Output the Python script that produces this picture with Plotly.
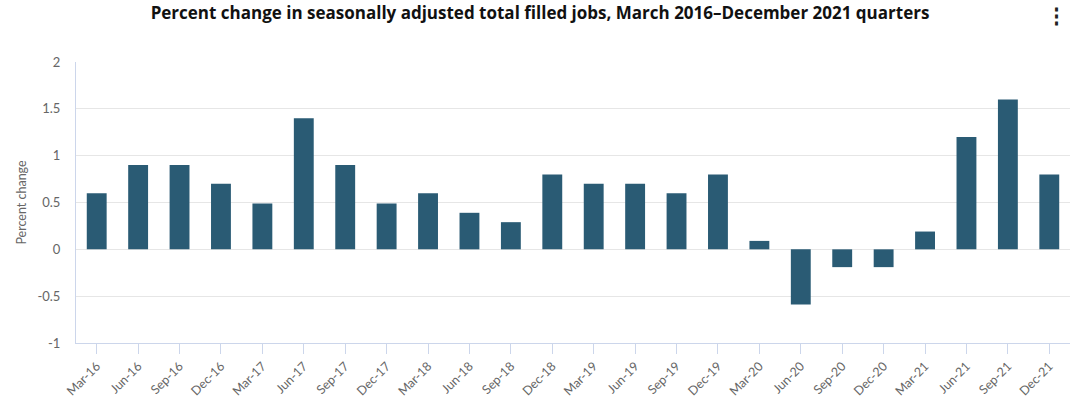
import plotly.graph_objects as go

categories = ["Mar-16", "Jun-16", "Sep-16", "Dec-16", "Mar-17", "Jun-17", "Sep-17", "Dec-17",
              "Mar-18", "Jun-18", "Sep-18", "Dec-18", "Mar-19", "Jun-19", "Sep-19", "Dec-19",
              "Mar-20", "Jun-20", "Sep-20", "Dec-20", "Mar-21", "Jun-21", "Sep-21", "Dec-21"]
values = [0.6, 0.9, 0.9, 0.7, 0.49, 1.4, 0.9, 0.49,
          0.6, 0.39, 0.29, 0.8, 0.7, 0.7, 0.6, 0.8,
          0.09, -0.59, -0.19, -0.19, 0.19, 1.2, 1.6, 0.8]
y_ticks = [-1, -0.5, 0, 0.5, 1, 1.5, 2]
y_tick_labels = ["-1", "-0.5", "0", "0.5", "1", "1.5", "2"]

FONT = "Lato, Open Sans, sans-serif"

fig = go.Figure(go.Bar(
    x=categories, y=values, marker=dict(color="#2a5b74", line=dict(width=0)),
    width=0.48, hoverinfo="x+y"))

plot_h = 414 - 71 - 62

fig.update_layout(
    width=1080, height=414,
    margin=dict(l=76, r=10, t=62, b=71),
    paper_bgcolor="white", plot_bgcolor="white",
    font=dict(family=FONT, color="#666666"),
    showlegend=False,
    title=dict(text="<b>Percent change in seasonally adjusted total filled jobs, March 2016\u2013December 2021 quarters</b>",
               x=0.5, xanchor="center", y=0.968, yanchor="middle",
               font=dict(size=17, color="#111111", family="Open Sans, sans-serif")),
    xaxis=dict(type="category", showgrid=False, showline=True, linecolor="#ccd6eb", linewidth=1,
               ticks="outside", ticklen=10, tickcolor="#ccd6eb", tickangle=-45,
               tickfont=dict(size=12.5, color="#666666"), range=[-0.5, 23.5], fixedrange=True),
    yaxis=dict(range=[-1, 2], tickvals=y_ticks, ticktext=y_tick_labels,
               showgrid=True, gridcolor="#e6e6e6", zeroline=False,
               showline=True, linecolor="#ccd6eb", linewidth=1,
               tickfont=dict(size=13, color="#666666"), ticks="", ticklabelstandoff=12,
               title=dict(text="Percent change", font=dict(size=12.5, color="#666666"), standoff=8)),
    annotations=[dict(text="<b>\u22ee</b>", xref="paper", yref="paper",
                      x=(1069 - 76) / 994, y=1 + 62 / plot_h, yanchor="top",
                      showarrow=False, font=dict(size=21, color="#222222"))],
)

fig.write_html("out.html")
